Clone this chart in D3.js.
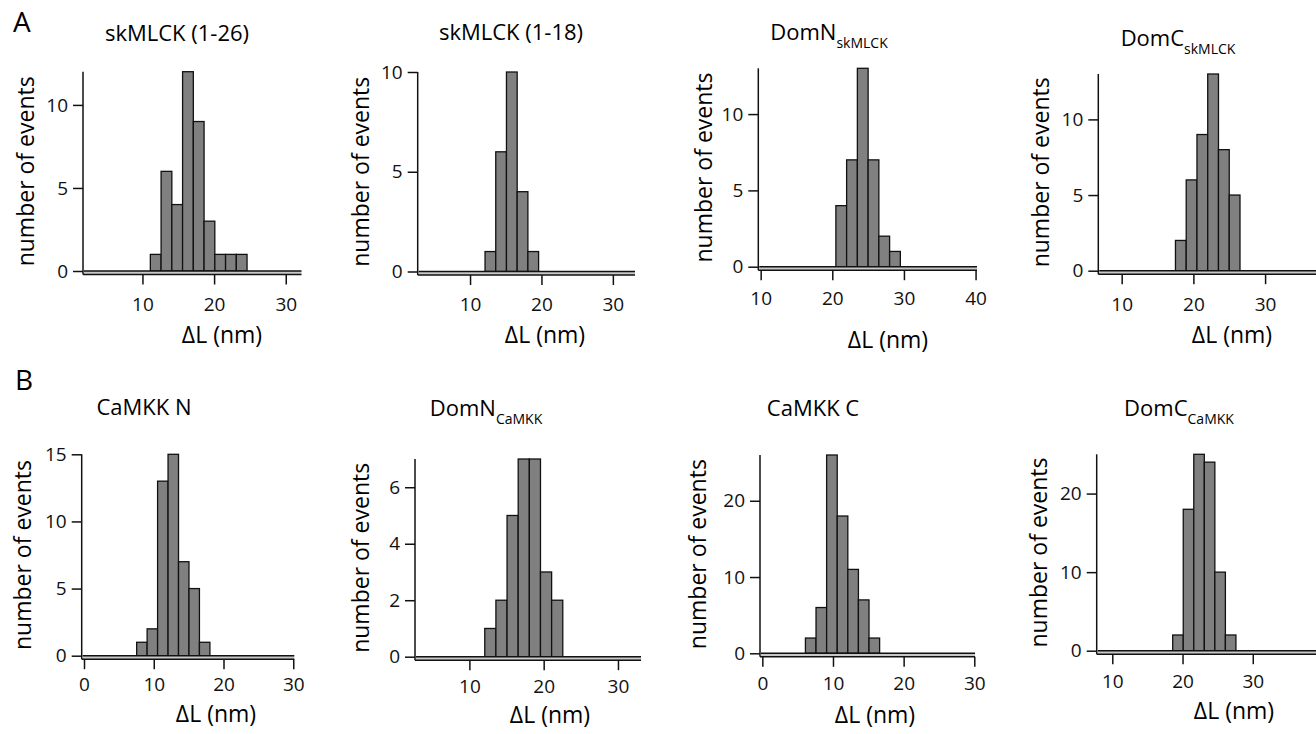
<!DOCTYPE html>
<html>
<head>
<meta charset="utf-8">
<script src="https://cdn.jsdelivr.net/npm/d3@7"></script>
<style>
  body { margin: 0; background: #fff; }
  svg { display: block; font-family: "Open Sans", sans-serif; }
</style>
</head>
<body>
<main></main>
<script>
// panel titles: [main text, subscript]
const titles = [
    ['skMLCK (1-26)', ''], ['skMLCK (1-18)', ''], ['DomN', 'skMLCK'], ['DomC', 'skMLCK'],
    ['CaMKK N', ''], ['DomN', 'CaMKK'], ['CaMKK C', ''], ['DomC', 'CaMKK']
];
// histogram counts per panel
const countsSk126 = [1, 6, 4, 12, 9, 3, 1, 1, 1];
const countsSk118 = [1, 6, 10, 4, 1];
const countsDomNSk = [4, 7, 13, 7, 2, 1];
const countsDomCSk = [2, 6, 9, 13, 8, 5];
const countsCaN = [1, 2, 13, 15, 7, 5, 1];
const countsDomNCa = [1, 2, 5, 7, 7, 3, 2];
const countsCaC = [2, 6, 26, 18, 11, 7, 2];
const countsDomCCa = [2, 18, 25, 24, 10, 2];
const counts = [countsSk126, countsSk118, countsDomNSk, countsDomCSk, countsCaN, countsDomNCa, countsCaC, countsDomCCa];
// left edge of the first bin (nm) and bin width (nm)
const binStart = [11.1, 12.1, 20.5, 17.5, 7.55, 12.07, 6.1, 18.6];
const binWidth = 1.5;
// axis ranges
const xDomains = [[1.7, 32.2], [2.67, 33.1], [9.67, 40.2], [6.74, 37.1], [-0.33, 30.15], [2.68, 33.1], [-0.33, 30.1], [7.78, 39]];
const yMax = [12, 10, 13, 13, 15, 7, 26, 25];
// tick labels
const xTicks = [[10, 20, 30], [10, 20, 30], [10, 20, 30, 40], [10, 20, 30], [0, 10, 20, 30], [10, 20, 30], [0, 10, 20, 30], [10, 20, 30]];
const yTicks = [[0, 5, 10], [0, 5, 10], [0, 5, 10], [0, 5, 10], [0, 5, 10, 15], [0, 2, 4, 6], [0, 10, 20], [0, 10, 20]];
const xTitle = 'ΔL (nm)';
const yTitle = 'number of events';

// layout (pixels): axis left/right, plot top, zero line, title x/y, x-title x/y, y-title baseline x, x tick padding
const layout = [
    {l: 83, r: 301.5, t: 71.7, b: 271, tx: 177, ty: 41, xtx: 222, xty: 343, ytx: 34, xp: 13.5},
    {l: 417.7, r: 635, t: 72, b: 271.5, tx: 511, ty: 40, xtx: 545, xty: 343, ytx: 369, xp: 13},
    {l: 758.3, r: 977, t: 68.3, b: 266.7, tx: 829, ty: 40, xtx: 888, xty: 348, ytx: 712, xp: 11},
    {l: 1098.3, r: 1316, t: 74, b: 270.7, tx: 1178, ty: 46, xtx: 1232, xty: 343, ytx: 1049, xp: 13},
    {l: 81.7, r: 294.3, t: 454.3, b: 655.7, tx: 144, ty: 415, xtx: 216, xty: 721.5, ytx: 31, xp: 8},
    {l: 415, r: 641, t: 459, b: 656.7, tx: 486, ty: 416, xtx: 550, xty: 722.5, ytx: 369, xp: 9},
    {l: 760, r: 975, t: 455, b: 653.3, tx: 813, ty: 416, xtx: 875, xty: 723, ytx: 706, xp: 10},
    {l: 1096.7, r: 1316, t: 454.3, b: 650.7, tx: 1179, ty: 416, xtx: 1234, xty: 719, ytx: 1047, xp: 10}
];

const w = 1316, h = 734;
const svg = d3.select('main').append('svg').attr('width', w).attr('height', h);

svg.append('text').attr('x', 13).attr('y', 32).attr('font-size', 28).text('A');
svg.append('text').attr('x', 15).attr('y', 390).attr('font-size', 28).text('B');

layout.forEach((p, i) => {
    const g = svg.append('g');
    const x = d3.scaleLinear().domain(xDomains[i]).range([p.l, p.r]);
    const y = d3.scaleLinear().domain([0, yMax[i]]).range([p.b, p.t]);
    const gap = 3.5;

    // bars
    g.selectAll('rect').data(counts[i]).enter().append('rect')
        .attr('x', (d, j) => x(binStart[i] + j * binWidth))
        .attr('width', (d, j) => x(binStart[i] + (j + 1) * binWidth) - x(binStart[i] + j * binWidth))
        .attr('y', d => y(d))
        .attr('height', d => y(0) - y(d))
        .attr('fill', '#808080')
        .attr('stroke', '#111')
        .attr('stroke-width', 1.3);

    // zero line and offset x axis line
    g.append('rect').attr('x', p.l + 1).attr('y', y(0)).attr('width', p.r - p.l - 1).attr('height', gap)
        .attr('fill', '#c8c8c8');
    g.append('line').attr('x1', p.l + 1).attr('x2', p.r).attr('y1', y(0)).attr('y2', y(0))
        .attr('stroke', '#111').attr('stroke-width', 1.5);

    const xAxis = d3.axisBottom(x).tickValues(xTicks[i]).tickSize(10).tickPadding(p.xp).tickSizeOuter(0);
    const gx = g.append('g').attr('transform', `translate(0, ${y(0) + gap})`).call(xAxis);
    gx.select('.domain').remove();
    gx.append('line').attr('x1', p.l).attr('x2', p.r).attr('stroke', '#111').attr('stroke-width', 1.5);

    const yAxis = d3.axisLeft(y).tickValues(yTicks[i]).tickFormat(d3.format('d'))
        .tickSize(10).tickPadding(5).tickSizeOuter(0);
    const gy = g.append('g').attr('transform', `translate(${p.l}, 0)`).call(yAxis);
    gy.select('.domain').remove();
    gy.append('line').attr('y1', p.t).attr('y2', y(0) + gap).attr('stroke', '#111').attr('stroke-width', 1.5);

    [gx, gy].forEach(a => {
        a.attr('font-family', null).attr('font-size', 19);
        a.selectAll('.tick line').attr('stroke', '#111').attr('stroke-width', 1.5);
        a.selectAll('.tick text').attr('fill', '#111');
    });

    // titles
    const t = g.append('text').attr('x', p.tx).attr('y', p.ty).attr('text-anchor', 'middle').attr('font-size', 22);
    t.append('tspan').text(titles[i][0]);
    if (titles[i][1]) t.append('tspan').attr('font-size', 14).attr('dy', 8).text(titles[i][1]);

    g.append('text').attr('x', p.xtx).attr('y', p.xty).attr('text-anchor', 'middle').attr('font-size', 23).text(xTitle);
    g.append('text').attr('transform', `translate(${p.ytx}, ${(p.t + p.b) / 2}) rotate(-90)`)
        .attr('text-anchor', 'middle').attr('font-size', 23).text(yTitle);
});
</script>
</body>
</html>
